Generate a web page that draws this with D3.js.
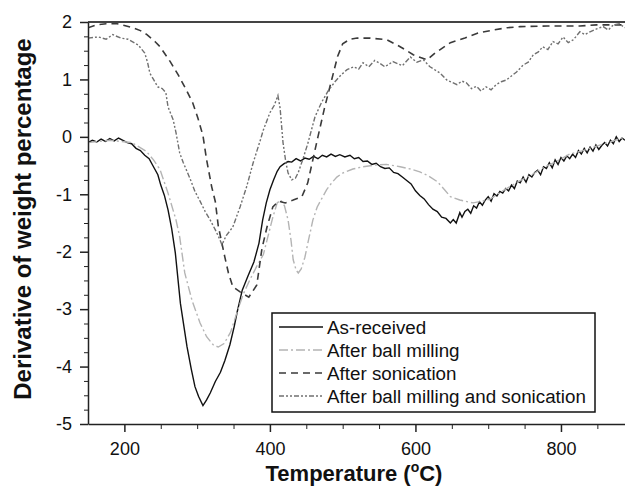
<!DOCTYPE html>
<html lang="en">
<head>
  <meta charset="UTF-8">
  <title>DTG curves</title>
  <script src="https://d3js.org/d3.v7.min.js"></script>
  <style>
    body { margin: 0; background: #fff; }
    svg { display: block; font-family: "Liberation Sans", Arial, sans-serif; }
    .axis path, .axis line { stroke: #222; }
    .axis text { font-size: 18px; fill: #111; }
    .series { fill: none; }
  </style>
</head>
<body>
  <svg id="chart" width="625" height="493"></svg>
  <script>
    // values: [temperature, derivative]
    const asReceived = [
      [150,-0.10],[156,-0.06],[162,-0.09],[168,-0.04],[174,-0.08],[180,-0.03],[186,-0.07],[192,-0.02],
      [198,-0.06],[204,-0.10],[210,-0.12],[216,-0.20],[222,-0.24],[228,-0.32],[234,-0.38],[240,-0.52],
      [246,-0.66],[250,-0.84],[255,-1.02],[260,-1.27],[265,-1.60],[270,-2.02],[277,-2.90],[286,-3.65],
      [292,-4.05],[297,-4.35],[302,-4.52],[308,-4.68],[313,-4.58],[318,-4.46],[325,-4.26],[332,-4.10],
      [338,-3.90],[345,-3.62],[351,-3.30],[355,-3.05],[362,-2.67],[370,-2.42],[378,-2.18],[385,-1.85],
      [390,-1.45],[395,-1.15],[400,-0.92],[405,-0.75],[410,-0.60],[414,-0.52],[419,-0.47],[425,-0.43],
      [430,-0.44],[436,-0.38],[442,-0.42],[448,-0.37],[454,-0.39],[460,-0.34],[466,-0.38],[472,-0.32],
      [478,-0.35],[484,-0.30],[490,-0.34],[496,-0.31],[503,-0.35],[510,-0.32],[516,-0.38],[522,-0.36],
      [528,-0.43],[534,-0.42],[540,-0.48],[546,-0.46],[552,-0.52],[558,-0.55],[564,-0.54],[570,-0.62],
      [576,-0.64],[582,-0.70],[588,-0.76],[594,-0.82],[600,-0.94],[606,-1.02],[612,-1.08],[618,-1.18],
      [624,-1.26],[630,-1.30],[636,-1.40],[642,-1.42],[648,-1.50],[652,-1.44],[656,-1.50],[661,-1.32],
      [664,-1.40],[668,-1.30],[672,-1.26],[676,-1.33],[680,-1.20],[684,-1.24],[688,-1.13],[692,-1.19],
      [696,-1.10],[700,-1.04],[704,-1.12],[708,-0.99],[712,-1.03],[716,-0.95],[720,-0.98],[724,-0.90],
      [728,-0.94],[732,-0.84],[736,-0.90],[740,-0.77],[744,-0.80],[748,-0.70],[752,-0.79],[756,-0.66],
      [760,-0.70],[764,-0.62],[768,-0.58],[772,-0.66],[776,-0.52],[780,-0.55],[784,-0.45],[788,-0.54],
      [792,-0.40],[796,-0.48],[800,-0.36],[804,-0.42],[808,-0.33],[812,-0.38],[816,-0.30],[820,-0.36],
      [824,-0.24],[828,-0.30],[832,-0.20],[836,-0.28],[840,-0.18],[844,-0.25],[848,-0.14],[852,-0.22],
      [856,-0.15],[860,-0.10],[864,-0.16],[868,-0.06],[872,-0.12],[876,0.00],[880,-0.08],[884,-0.02],
      [888,-0.06]
    ];

    const ballMilling = [
      [150,-0.10],[180,-0.06],[210,-0.10],[230,-0.25],[240,-0.40],[249,-0.57],[260,-0.98],[271,-1.45],
      [276,-1.74],[283,-2.37],[293,-2.85],[304,-3.24],[313,-3.48],[322,-3.62],[329,-3.66],[337,-3.60],
      [346,-3.40],[355,-3.05],[363,-2.75],[372,-2.50],[382,-2.25],[391,-2.05],[397,-1.75],[404,-1.40],
      [410,-1.15],[415,-1.10],[420,-1.20],[425,-1.45],[429,-1.80],[432,-2.14],[436,-2.32],[439,-2.37],
      [443,-2.30],[448,-2.10],[453,-1.80],[459,-1.45],[465,-1.22],[471,-1.08],[478,-0.92],[485,-0.80],
      [492,-0.70],[500,-0.63],[514,-0.56],[528,-0.52],[545,-0.49],[560,-0.48],[579,-0.52],[593,-0.56],
      [606,-0.61],[618,-0.68],[630,-0.78],[640,-0.92],[648,-1.04],[661,-1.10],[679,-1.15],[692,-1.12],
      [703,-1.08],[720,-0.94],[744,-0.76],[760,-0.66],[775,-0.54],[795,-0.42],[812,-0.30],[830,-0.24],
      [849,-0.16],[870,-0.08],[888,0.00]
    ];

    const sonication = [
      [150,1.90],[162,1.95],[175,1.97],[190,1.97],[200,1.94],[212,1.90],[222,1.85],[231,1.78],
      [242,1.66],[249,1.57],[263,1.31],[274,1.08],[285,0.82],[294,0.59],[301,0.33],[308,0.02],
      [313,-0.40],[320,-0.87],[325,-1.13],[329,-1.55],[338,-2.09],[343,-2.37],[349,-2.61],[359,-2.70],
      [371,-2.79],[382,-2.58],[389,-1.95],[396,-1.57],[404,-1.22],[412,-1.12],[421,-1.15],[432,-1.10],
      [444,-1.04],[452,-0.80],[459,-0.40],[466,0.00],[475,0.50],[485,1.00],[493,1.40],[500,1.62],
      [510,1.70],[520,1.72],[538,1.72],[561,1.69],[579,1.57],[597,1.43],[616,1.34],[627,1.46],
      [648,1.64],[668,1.72],[686,1.81],[707,1.86],[726,1.90],[744,1.92],[781,1.93],[826,1.93],
      [849,1.95],[888,1.95]
    ];

    const millingSonication = [
      [150,1.72],[164,1.74],[175,1.70],[184,1.78],[195,1.72],[205,1.70],[219,1.60],[228,1.46],
      [232,1.29],[235,1.11],[240,1.00],[246,0.87],[252,0.84],[257,0.77],[260,0.52],[267,0.30],
      [271,0.07],[276,-0.28],[281,-0.45],[290,-0.72],[297,-0.95],[304,-1.12],[311,-1.30],[318,-1.45],
      [325,-1.62],[331,-1.78],[334,-1.88],[340,-1.72],[349,-1.57],[359,-1.22],[368,-0.87],[377,-0.45],
      [387,-0.05],[391,0.12],[400,0.42],[406,0.55],[411,0.72],[414,0.50],[418,-0.10],[422,-0.45],
      [425,-0.63],[430,-0.75],[435,-0.72],[439,-0.62],[445,-0.40],[452,-0.12],[462,0.35],[471,0.60],
      [480,0.80],[490,0.97],[498,1.08],[506,1.17],[515,1.22],[522,1.18],[528,1.29],[536,1.22],
      [544,1.33],[551,1.28],[558,1.22],[569,1.31],[582,1.24],[593,1.39],[602,1.30],[611,1.34],
      [620,1.22],[634,1.11],[643,0.99],[650,0.95],[657,0.91],[664,0.97],[670,0.94],[677,0.84],
      [684,0.88],[690,0.80],[697,0.87],[704,0.82],[711,0.91],[718,0.96],[725,0.99],[732,1.06],
      [739,1.13],[748,1.25],[755,1.30],[762,1.43],[769,1.48],[775,1.57],[782,1.52],[789,1.66],
      [796,1.62],[803,1.74],[810,1.64],[817,1.69],[826,1.83],[833,1.78],[840,1.83],[849,1.88],
      [858,1.92],[865,1.86],[872,1.95],[880,1.97],[888,1.90]
    ];

    const seriesNames = ["As-received", "After ball milling", "After sonication", "After ball milling and sonication"];
    const xTicks = [200, 400, 600, 800];
    const yTicks = [-5, -4, -3, -2, -1, 0, 1, 2];

    const svg = d3.select("#chart");
    const plotLeft = 88, plotRight = 625, plotTop = 22, plotBottom = 424;

    const x = d3.scaleLinear().domain([150, 888]).range([plotLeft, plotRight]);
    const y = d3.scaleLinear().domain([-5, 2]).range([plotBottom, plotTop]);

    svg.append("clipPath").attr("id", "plotClip")
      .append("rect").attr("x", plotLeft).attr("y", plotTop - 2)
      .attr("width", plotRight - plotLeft).attr("height", plotBottom - plotTop + 2);

    // curves
    const line = d3.line().x(d => x(d[0])).y(d => y(d[1]));
    const styles = [
      { data: asReceived, color: "#111", width: 1.4, dash: null },
      { data: ballMilling, color: "#b4b4b4", width: 1.4, dash: "9,3,2,3" },
      { data: sonication, color: "#3a3a3a", width: 1.6, dash: "7,5" },
      { data: millingSonication, color: "#707070", width: 1.4, dash: "5,2,2,2,2,2" }
    ];

    const plot = svg.append("g").attr("clip-path", "url(#plotClip)");
    plot.selectAll("path")
      .data(styles)
      .join("path")
        .attr("class", "series")
        .attr("d", d => line(d.data))
        .attr("stroke", d => d.color)
        .attr("stroke-width", d => d.width)
        .attr("stroke-dasharray", d => d.dash);

    // top frame line
    svg.append("line")
      .attr("x1", plotLeft).attr("x2", plotRight).attr("y1", plotTop).attr("y2", plotTop)
      .attr("stroke", "#444").attr("stroke-width", 2);

    // minor ticks
    const yMinor = d3.range(-5, 2.001, 0.25).filter(v => Math.abs(v - Math.round(v)) > 0.01);
    const xMinor = d3.range(150, 889, 50).filter(v => !xTicks.includes(v) && v > 150);

    svg.append("g").attr("class", "axis")
      .attr("transform", `translate(${plotLeft},0)`)
      .call(d3.axisLeft(y).tickValues(yMinor).tickSize(4).tickSizeOuter(0).tickFormat(""))
      .call(g => g.select(".domain").remove());
    svg.append("g").attr("class", "axis")
      .attr("transform", `translate(0,${plotBottom})`)
      .call(d3.axisBottom(x).tickValues(xMinor).tickSize(5).tickSizeOuter(0).tickFormat(""))
      .call(g => g.select(".domain").remove());

    // major axes
    svg.append("g").attr("class", "axis")
      .attr("transform", `translate(${plotLeft},0)`)
      .call(d3.axisLeft(y).tickValues(yTicks).tickSize(8).tickPadding(8).tickSizeOuter(0).tickFormat(d => String(d)))
      .call(g => g.selectAll("line, path").attr("stroke-width", 1.5));
    svg.append("g").attr("class", "axis")
      .attr("transform", `translate(0,${plotBottom})`)
      .call(d3.axisBottom(x).tickValues(xTicks).tickSize(8).tickPadding(10).tickSizeOuter(0))
      .call(g => g.selectAll("line, path").attr("stroke-width", 1.5));

    // axis titles
    svg.append("text")
      .attr("transform", `translate(31,${(31 + 407) / 2}) rotate(-90)`)
      .attr("text-anchor", "middle")
      .attr("font-size", 24).attr("font-weight", "bold").attr("fill", "#111")
      .text("Derivative of weight percentage");

    const xt = svg.append("text")
      .attr("x", 354).attr("y", 481)
      .attr("text-anchor", "middle")
      .attr("font-size", 22).attr("font-weight", "bold").attr("fill", "#111");
    xt.append("tspan").text("Temperature (");
    xt.append("tspan").attr("font-size", 14).attr("dy", -9).text("o");
    xt.append("tspan").attr("dy", 9).text("C)");

    // legend
    const lg = svg.append("g");
    lg.append("rect")
      .attr("x", 272).attr("y", 313).attr("width", 323).attr("height", 99)
      .attr("fill", "#fff").attr("stroke", "#111").attr("stroke-width", 1.5);
    const rows = lg.selectAll("g.row")
      .data(styles.map((s, i) => ({ ...s, name: seriesNames[i] })))
      .join("g").attr("class", "row")
      .attr("transform", (d, i) => `translate(0,${327 + i * 23})`);
    rows.append("line")
      .attr("x1", 279).attr("x2", 323)
      .attr("stroke", d => d.color)
      .attr("stroke-width", d => d.width)
      .attr("stroke-dasharray", d => d.dash);
    rows.append("text")
      .attr("x", 327).attr("dy", "0.35em")
      .attr("font-size", 18.8).attr("fill", "#111")
      .text(d => d.name);
  </script>
</body>
</html>
